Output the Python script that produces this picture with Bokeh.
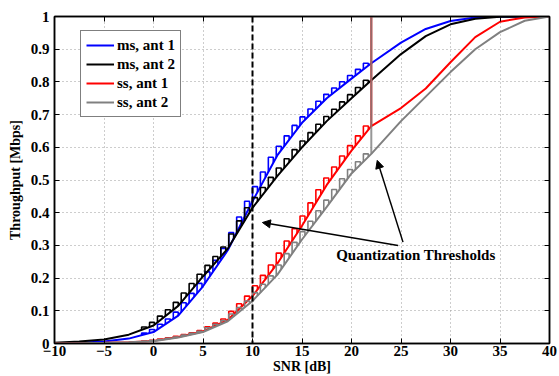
import numpy as np
from bokeh.plotting import figure
from bokeh.models import (Range1d, LinearAxis, Legend, LegendItem, Arrow, NormalHead,
                          Label, FixedTicker, Span)
from bokeh.embed import file_html
from bokeh.resources import INLINE

# ---- data ----
snr = [-10, -7.5, -5, -2.5, 0, 2.5, 5, 7.5, 10, 12.5, 15, 17.5, 20, 22, 25, 27.5, 30, 32.5, 35, 37.5, 40]
ms_ant1 = [0.0, 0.002, 0.006, 0.015, 0.035, 0.085, 0.175, 0.285, 0.435, 0.575, 0.675, 0.75, 0.81, 0.857,
           0.92, 0.962, 0.986, 0.997, 1.0, 1.0, 1.0]
ms_ant2 = [0.002, 0.006, 0.012, 0.027, 0.055, 0.115, 0.205, 0.29, 0.415, 0.512, 0.6, 0.68, 0.75, 0.805,
           0.885, 0.94, 0.976, 0.993, 0.999, 1.0, 1.0]
ss_ant1 = [0.0, 0.001, 0.002, 0.004, 0.008, 0.02, 0.037, 0.072, 0.145, 0.244, 0.36, 0.485, 0.59, 0.665,
           0.72, 0.78, 0.86, 0.937, 0.984, 0.997, 1.0]
ss_ant2 = [0.0, 0.001, 0.002, 0.004, 0.007, 0.018, 0.035, 0.068, 0.13, 0.21, 0.318, 0.418, 0.52, 0.58,
           0.68, 0.755, 0.83, 0.9, 0.952, 0.987, 1.0]
thresholds = [round(-1.2 + 0.8 * k, 2) for k in range(30)]   # quantization thresholds (dB)
tooth_width = 0.5
marker_snr = 10
x_ticks = [-10, -5, 0, 5, 10, 15, 20, 25, 30, 35, 40]
y_ticks = [0, 0.1, 0.2, 0.3, 0.4, 0.5, 0.6, 0.7, 0.8, 0.9, 1.0]
y_tick_labels = ["0", "0.1", "0.2", "0.3", "0.4", "0.5", "0.6", "0.7", "0.8", "0.9", "1"]
series = [("ms, ant 1", ms_ant1, "#0000ff"),
          ("ms, ant 2", ms_ant2, "#000000"),
          ("ss, ant 1", ss_ant1, "#ff0000"),
          ("ss, ant 2", ss_ant2, "#808080")]

FONT = "Liberation Serif"

p = figure(width=559, height=376, x_range=Range1d(-10, 40), y_range=Range1d(0, 1),
           output_backend="svg", toolbar_location=None,
           min_border_left=54, min_border_right=10, min_border_top=16, min_border_bottom=33)
p.background_fill_color = "white"
p.border_fill_color = "white"
p.outline_line_color = "black"
p.outline_line_width = 1.5

# grid
p.grid.grid_line_color = "#9a9a9a"
p.grid.grid_line_dash = "1 3"
p.grid.grid_line_width = 1
p.xaxis.ticker = FixedTicker(ticks=x_ticks)
p.yaxis.ticker = FixedTicker(ticks=y_ticks)
p.xgrid.ticker = FixedTicker(ticks=x_ticks)
p.ygrid.ticker = FixedTicker(ticks=y_ticks)

p.xaxis.major_label_overrides = {t: (str(t).replace("-", "\u2212")) for t in x_ticks}
p.yaxis.major_label_overrides = {t: l for t, l in zip(y_ticks, y_tick_labels)}

for ax in [p.xaxis[0], p.yaxis[0]]:
    ax.major_tick_in = 5
    ax.major_tick_out = 0
    ax.minor_tick_line_color = None
    ax.axis_line_width = 1.5
    ax.major_tick_line_width = 1
    ax.major_label_text_font = FONT
    ax.major_label_text_font_style = "bold"
    ax.major_label_text_font_size = "15px"
    ax.major_label_text_color = "black"
    ax.axis_label_text_font = FONT
    ax.axis_label_text_font_style = "bold"
    ax.axis_label_text_font_size = "14px"
    ax.axis_label_text_color = "black"
p.xaxis.major_label_standoff = 2
p.xaxis.axis_label = "SNR [dB]"
p.xaxis.axis_label_standoff = 0
p.yaxis.major_label_standoff = 5
p.yaxis.axis_label = "Throughput [Mbps]"
p.yaxis.axis_label_standoff = 5

# mirrored axes (ticks only)
top = LinearAxis(ticker=FixedTicker(ticks=x_ticks), major_tick_in=5, major_tick_out=0,
                 minor_tick_line_color=None, major_label_text_font_size="0px",
                 major_label_standoff=0, axis_line_width=1.5)
right = LinearAxis(ticker=FixedTicker(ticks=y_ticks), major_tick_in=5, major_tick_out=0,
                   minor_tick_line_color=None, major_label_text_font_size="0px",
                   major_label_standoff=0, axis_line_width=1.5)
top.major_label_overrides = {t: "" for t in x_ticks}
right.major_label_overrides = {t: "" for t in y_ticks}
p.add_layout(top, "above")
p.add_layout(right, "right")

# curves + quantization teeth
legend_items = []
for name, vals, col in series:
    r = p.line(snr, vals, line_color=col, line_width=2)
    xs, ys = [], []
    for k in range(len(thresholds) - 1):
        x0, x1 = thresholds[k], thresholds[k + 1]
        top_level = float(np.interp(x1, snr, vals))
        xa = x0 + tooth_width
        xs.append([x0, x0, xa, xa])
        ys.append([float(np.interp(x0, snr, vals)), top_level, top_level, float(np.interp(xa, snr, vals))])
    p.multi_line(xs, ys, line_color=col, line_width=1.6)
    legend_items.append(LegendItem(label=name, renderers=[r]))

# vertical jumps at last threshold for ss curves
last = thresholds[-1]
p.segment(x0=[last], y0=[float(np.interp(last, snr, ss_ant1))], x1=[last], y1=[1.0],
          line_color="#ff0000", line_width=2)
p.segment(x0=[last], y0=[float(np.interp(last, snr, ss_ant2))], x1=[last], y1=[1.0],
          line_color="#808080", line_width=2, line_alpha=0.82)

# dashed reference line
p.add_layout(Span(location=marker_snr, dimension="height", line_color="black",
                  line_width=2, line_dash="6 3"))

# annotation
p.add_layout(Label(x=26.5, y=0.27, text="Quantization Thresholds", text_font=FONT,
                   text_font_style="bold", text_font_size="15px", text_align="center",
                   text_baseline="middle", text_color="black"))
p.add_layout(Arrow(x_start=24.7, y_start=0.30, x_end=11.0, y_end=0.37, line_width=1.5,
                   end=NormalHead(size=8, fill_color="black", line_color="black")))
p.add_layout(Arrow(x_start=25.2, y_start=0.31, x_end=22.6, y_end=0.56, line_width=1.5,
                   end=NormalHead(size=8, fill_color="black", line_color="black")))

legend = Legend(items=legend_items, location=(26, 226))
legend.label_text_font = FONT
legend.label_text_font_style = "bold"
legend.label_text_font_size = "15px"
legend.label_text_color = "black"
legend.glyph_width = 28
legend.glyph_height = 18
legend.label_height = 18
legend.label_standoff = 3
legend.spacing = 1
legend.padding = 5
legend.margin = 0
legend.border_line_color = "black"
legend.border_line_width = 1
legend.background_fill_alpha = 1
p.add_layout(legend, "center")

open("out.html", "w").write(file_html(p, INLINE))
